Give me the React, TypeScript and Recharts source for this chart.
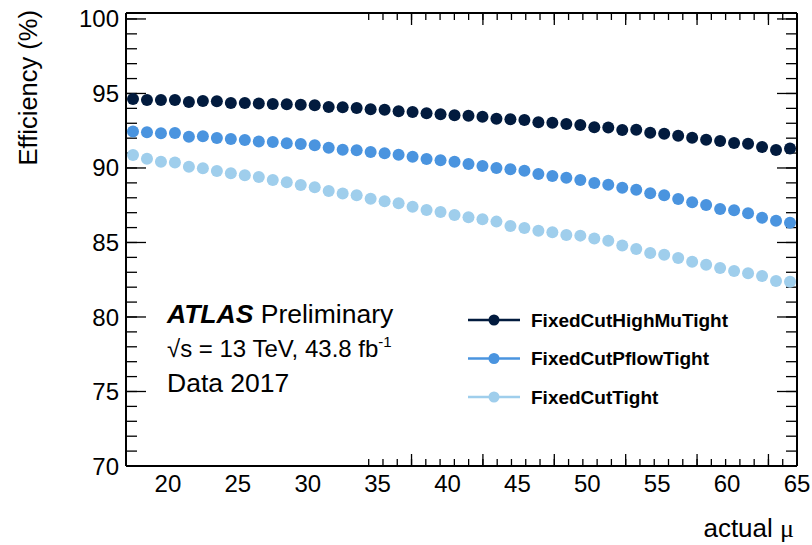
import {Line, LineChart, XAxis, YAxis} from "recharts";

const mu = [
    17.5, 18.5, 19.5, 20.5, 21.5, 22.5, 23.5, 24.5, 25.5, 26.5, 27.5, 28.5, 29.5, 30.5, 31.5, 32.5,
    33.5, 34.5, 35.5, 36.5, 37.5, 38.5, 39.5, 40.5, 41.5, 42.5, 43.5, 44.5, 45.5, 46.5, 47.5, 48.5,
    49.5, 50.5, 51.5, 52.5, 53.5, 54.5, 55.5, 56.5, 57.5, 58.5, 59.5, 60.5, 61.5, 62.5, 63.5, 64.5,
];

const highMuTight = [
    94.63, 94.56, 94.56, 94.56, 94.43, 94.50, 94.48, 94.36, 94.36, 94.32, 94.30, 94.27, 94.25, 94.21, 94.09, 94.07,
    94.03, 93.94, 93.91, 93.81, 93.76, 93.67, 93.60, 93.54, 93.51, 93.44, 93.31, 93.27, 93.22, 93.07, 93.04, 92.95,
    92.89, 92.73, 92.71, 92.55, 92.57, 92.37, 92.30, 92.17, 92.03, 91.90, 91.81, 91.68, 91.63, 91.41, 91.21, 91.30,
];

const pflowTight = [
    92.44, 92.40, 92.33, 92.35, 92.10, 92.13, 92.01, 91.95, 91.88, 91.77, 91.74, 91.66, 91.61, 91.52, 91.36, 91.23,
    91.19, 91.07, 90.99, 90.89, 90.76, 90.60, 90.52, 90.42, 90.27, 90.13, 90.00, 89.91, 89.82, 89.60, 89.46, 89.35,
    89.19, 88.99, 88.88, 88.68, 88.54, 88.30, 88.17, 87.92, 87.70, 87.52, 87.25, 87.16, 86.96, 86.66, 86.46, 86.33,
];

const tight = [
    90.87, 90.62, 90.42, 90.36, 90.09, 89.98, 89.80, 89.64, 89.51, 89.40, 89.19, 89.04, 88.86, 88.70, 88.46, 88.28,
    88.17, 87.94, 87.76, 87.63, 87.40, 87.18, 87.05, 86.85, 86.69, 86.56, 86.40, 86.11, 85.97, 85.79, 85.68, 85.50,
    85.46, 85.26, 85.12, 84.79, 84.56, 84.30, 84.18, 83.96, 83.71, 83.51, 83.29, 83.09, 82.93, 82.75, 82.42, 82.37,
];

const xMajor = [20, 25, 30, 35, 40, 45, 50, 55, 60, 65];
const xMinor = Array.from({length: 49}, (_, i) => 17 + i);
const yMajor = [70, 75, 80, 85, 90, 95, 100];
const yMinor = Array.from({length: 31}, (_, i) => 70 + i);

const series = [
    {key: "highMu", name: "FixedCutHighMuTight", color: "#021b3e"},
    {key: "pflow", name: "FixedCutPflowTight", color: "#4a94df"},
    {key: "tight", name: "FixedCutTight", color: "#9fceec"},
];

const data = mu.map((m, i) => ({mu: m, highMu: highMuTight[i], pflow: pflowTight[i], tight: tight[i]}));

const font = "'Liberation Sans', Arial, Helvetica, sans-serif";
const xDomain = [17, 65];
const yDomain = [70, 100.4];
const blank = () => "";
const frame = {stroke: "#000", strokeWidth: 2};
const tickStroke = {stroke: "#000", strokeWidth: 1.3};

const App = () => {
    return (
        <div style={{position: "absolute", left: 0, top: 0, background: "#fff"}}>
            <LineChart width={812} height={545} data={data} margin={{top: 13, right: 15, bottom: 0, left: 0}}>
                {/* label axes */}
                <XAxis xAxisId="lab" dataKey="mu" type="number" domain={xDomain} ticks={xMajor} allowDataOverflow
                       height={79} tickSize={0} tickMargin={9} tickLine={false} axisLine={false}
                       tick={{fontSize: 24, fill: "#000", fontFamily: font}}/>
                <YAxis yAxisId="lab" type="number" domain={yDomain} ticks={yMajor} allowDataOverflow
                       width={126} tickSize={0} tickMargin={7} tickLine={false} axisLine={false}
                       tick={{fontSize: 24, fill: "#000", fontFamily: font}}/>

                {/* inward tick marks on all four sides */}
                <XAxis xAxisId="bMaj" type="number" domain={xDomain} ticks={xMajor} mirror orientation="bottom"
                       height={1} tickSize={12} tickFormatter={blank} axisLine={frame} tickLine={tickStroke}/>
                <XAxis xAxisId="bMin" type="number" domain={xDomain} ticks={xMinor} mirror orientation="bottom"
                       height={1} tickSize={6} tickFormatter={blank} axisLine={false} tickLine={tickStroke}/>
                <XAxis xAxisId="tMaj" type="number" domain={xDomain} ticks={xMajor} mirror orientation="top"
                       height={1} tickSize={12} tickFormatter={blank} axisLine={frame} tickLine={tickStroke}/>
                <XAxis xAxisId="tMin" type="number" domain={xDomain} ticks={xMinor} mirror orientation="top"
                       height={1} tickSize={6} tickFormatter={blank} axisLine={false} tickLine={tickStroke}/>
                <YAxis yAxisId="lMaj" type="number" domain={yDomain} ticks={yMajor} mirror orientation="left"
                       width={1} allowDataOverflow tickSize={20} tickFormatter={blank} axisLine={frame} tickLine={tickStroke}/>
                <YAxis yAxisId="lMin" type="number" domain={yDomain} ticks={yMinor} mirror orientation="left"
                       width={1} allowDataOverflow tickSize={10} tickFormatter={blank} axisLine={false} tickLine={tickStroke}/>
                <YAxis yAxisId="rMaj" type="number" domain={yDomain} ticks={yMajor} mirror orientation="right"
                       width={1} allowDataOverflow tickSize={20} tickFormatter={blank} axisLine={frame} tickLine={tickStroke}/>
                <YAxis yAxisId="rMin" type="number" domain={yDomain} ticks={yMinor} mirror orientation="right"
                       width={1} allowDataOverflow tickSize={10} tickFormatter={blank} axisLine={false} tickLine={tickStroke}/>

                {series.map(s => (
                    <Line key={s.key} xAxisId="lab" yAxisId="lab" dataKey={s.key} name={s.name}
                          stroke="none" strokeWidth={0} dot={{r: 6, fill: s.color, stroke: "none"}}
                          activeDot={false} isAnimationActive={false}/>
                ))}

                <text transform="translate(37,10) rotate(-90)" textAnchor="end" fontSize={25.5}
                      fontFamily={font} fill="#000">Efficiency (%)</text>
                <text x={794} y={537} textAnchor="end" fontSize={26} fontFamily={font} fill="#000">
                    actual <tspan fontFamily="'Liberation Serif', 'DejaVu Serif', serif">μ</tspan>
                </text>

                <text x={167} y={323} fontSize={26.5} fontFamily={font} fill="#000">
                    <tspan fontWeight="bold" fontStyle="italic">ATLAS</tspan> Preliminary
                </text>
                <text x={167} y={357} fontSize={24} fontFamily={font} fill="#000">
                    √s = 13 TeV, 43.8 fb<tspan fontSize={15} dy={-10}>-1</tspan>
                </text>
                <text x={167} y={392} fontSize={26.5} fontFamily={font} fill="#000">Data 2017</text>

                {series.map((s, i) => (
                    <g key={s.key}>
                        <line x1={468} x2={520} y1={320 + i * 38.5} y2={320 + i * 38.5} stroke={s.color} strokeWidth={2.5}/>
                        <circle cx={494} cy={320 + i * 38.5} r={5.5} fill={s.color}/>
                        <text x={531} y={320 + i * 38.5} dy="0.35em" fontSize={19} fontWeight="bold"
                              fontFamily={font} fill="#000">{s.name}</text>
                    </g>
                ))}
            </LineChart>
        </div>
    );
};

export default App;
